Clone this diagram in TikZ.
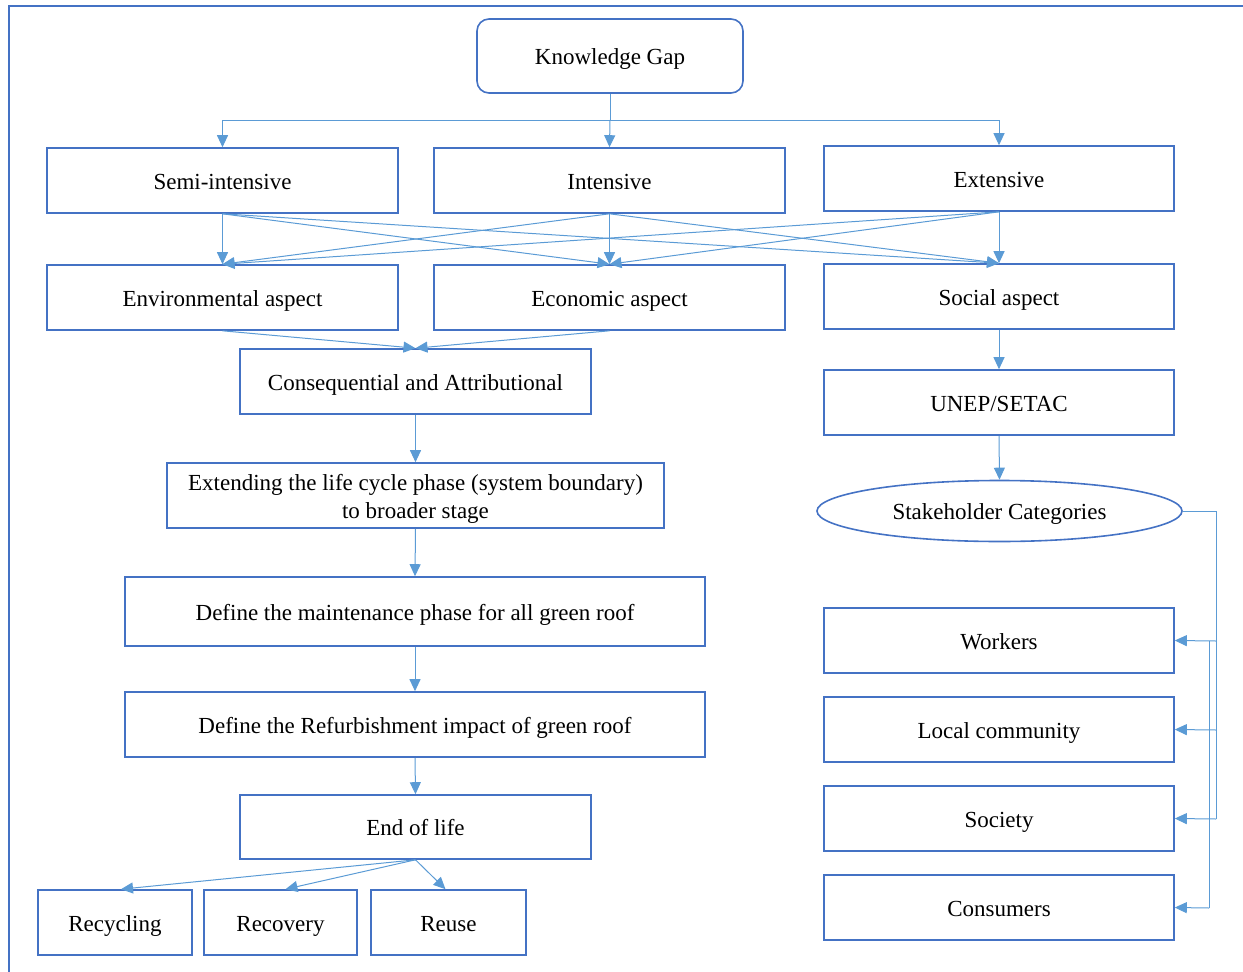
\documentclass[tikz,border=0pt]{standalone}
\usepackage{fontspec}
\setmainfont{Liberation Serif}
\usetikzlibrary{shapes.geometric,arrows.meta}
\definecolor{boxc}{HTML}{4472C4}
\definecolor{arrc}{HTML}{5B9BD5}
\tikzset{
  box/.style={draw=boxc, line width=1.6pt, inner sep=0pt, align=center, font=\fontsize{23}{28}\selectfont, text=black, text height=20.5pt, text depth=3pt},
  link/.style={draw=arrc, line width=1pt},
  arr/.style={link, -{Triangle[length=12pt,width=11pt]}},
}
\begin{document}
\begin{tikzpicture}[x=1pt,y=-1pt]
\useasboundingbox (0,0) rectangle (1243,972);
\draw[boxc, line width=1.6pt] (9,972) -- (9,6) -- (1243,6);
% nodes
\node[box, rounded corners=12pt, minimum width=266pt, minimum height=74pt] (kg) at (610,56) {Knowledge Gap};
\node[box, minimum width=351pt, minimum height=65pt] (semi) at (222.5,180.5) {Semi-intensive};
\node[box, minimum width=351pt, minimum height=65pt] (int) at (609.5,180.5) {Intensive};
\node[box, minimum width=350pt, minimum height=65pt] (ext) at (999,178.5) {Extensive};
\node[box, minimum width=351pt, minimum height=65pt] (env) at (222.5,297.5) {Environmental aspect};
\node[box, minimum width=351pt, minimum height=65pt] (eco) at (609.5,297.5) {Economic aspect};
\node[box, minimum width=350pt, minimum height=65pt] (soc) at (999,296.5) {Social aspect};
\node[box, minimum width=351pt, minimum height=65pt] (cons) at (415.5,381.5) {Consequential and Attributional};
\node[box, minimum width=350pt, minimum height=65pt] (unep) at (999,402.5) {UNEP/SETAC};
\node[box, minimum width=497pt, minimum height=65pt, text height=47pt, text depth=2pt] (extd) at (415.5,495.5) {Extending the life cycle phase (system boundary)\\to broader stage};
\node[box, ellipse, minimum width=365pt, minimum height=61pt] (stake) at (999.5,511) {Stakeholder Categories};
\node[box, minimum width=580pt, minimum height=69pt] (maint) at (415,611.5) {Define the maintenance phase for all green roof};
\node[box, minimum width=580pt, minimum height=65pt] (refurb) at (415,724.5) {Define the Refurbishment impact of green roof};
\node[box, minimum width=351pt, minimum height=64pt] (eol) at (415.5,827) {End of life};
\node[box, minimum width=154pt, minimum height=65pt] (recyc) at (115,922.5) {Recycling};
\node[box, minimum width=153pt, minimum height=65pt] (recov) at (280.5,922.5) {Recovery};
\node[box, minimum width=155pt, minimum height=65pt] (reuse) at (448.5,922.5) {Reuse};
\node[box, minimum width=350pt, minimum height=65pt] (workers) at (999,640.5) {Workers};
\node[box, minimum width=350pt, minimum height=65pt] (local) at (999,729.5) {Local community};
\node[box, minimum width=350pt, minimum height=65pt] (society) at (999,818.5) {Society};
\node[box, minimum width=350pt, minimum height=65pt] (consum) at (999,907.5) {Consumers};
% coordinates
\coordinate (bus) at (610,120);
\coordinate (r1) at (1216,511);
\coordinate (ra) at (1216,641);
\coordinate (rb) at (1216,730);
\coordinate (rc) at (1216,819);
\coordinate (ia) at (1209,641);
\coordinate (id) at (1209,908);
% connectors
\draw[link] (kg.south) -- (bus);
\draw[arr] (bus) -| (semi.north);
\draw[arr] (bus) -| (ext.north);
\draw[arr] (bus) -- (int.north);
\foreach \a in {semi,int,ext}{
  \foreach \b in {env,eco,soc}{
    \draw[arr] (\a.south) -- (\b.north);
  }
}
\draw[arr] (env.south) -- (cons.north);
\draw[arr] (eco.south) -- (cons.north);
\draw[arr] (cons.south) -- (extd.north);
\draw[arr] (extd.south) -- (maint.north);
\draw[arr] (maint.south) -- (refurb.north);
\draw[arr] (refurb.south) -- (eol.north);
\draw[arr] (eol.south) -- ([xshift=6pt]recyc.north);
\draw[arr] (eol.south) -- ([xshift=5pt]recov.north);
\draw[arr] (eol.south) -- ([xshift=-3pt]reuse.north);
\draw[arr] (soc.south) -- (unep.north);
\draw[arr] (unep.south) -- (stake.north);
\draw[link] (stake.east) -- (r1) -- (rc);
\draw[arr] (ra) -- (workers.east);
\draw[arr] (rb) -- (local.east);
\draw[arr] (rc) -- (society.east);
\draw[link] (ia) -- (id);
\draw[arr] (id) -- (consum.east);
\end{tikzpicture}
\end{document}
